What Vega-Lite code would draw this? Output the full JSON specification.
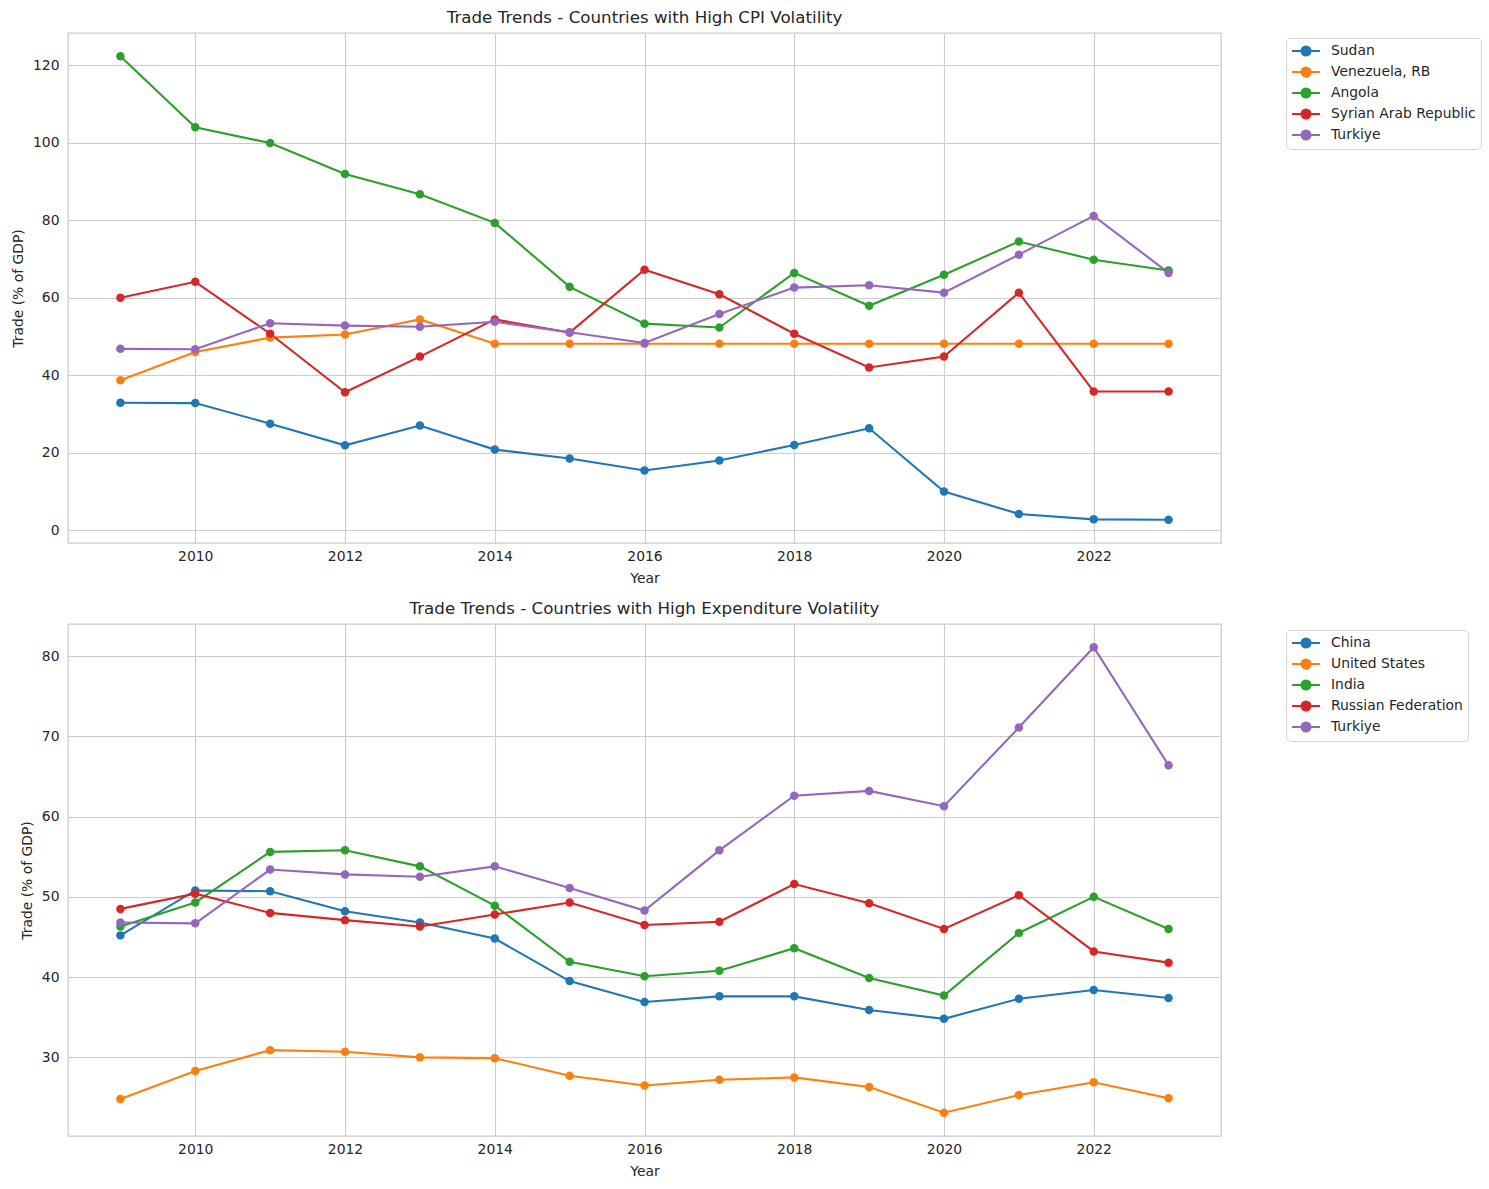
{
  "$schema": "https://vega.github.io/schema/vega-lite/v6.json",
  "padding": {"left": 10, "top": 9, "right": 5, "bottom": 5},
  "background": "white",
  "spacing": 13,
  "config": {
    "font": "DejaVu Sans",
    "view": {"stroke": "#cccccc", "strokeWidth": 1.3},
    "axis": {
      "domain": false,
      "ticks": false,
      "tickSize": 0,
      "grid": true,
      "gridColor": "#cccccc",
      "gridWidth": 1.1,
      "labelFont": "DejaVu Sans",
      "labelFontSize": 13.9,
      "labelColor": "#262626",
      "titleFont": "DejaVu Sans",
      "titleFontSize": 13.9,
      "titleFontWeight": "normal",
      "titleColor": "#262626"
    },
    "axisX": {"labelPadding": 6, "titlePadding": 9},
    "axisY": {"labelPadding": 9, "titlePadding": 7},
    "title": {"font": "DejaVu Sans", "fontSize": 16.7, "fontWeight": "normal", "color": "#262626", "offset": 6, "anchor": "middle"},
    "legend": {
      "labelFont": "DejaVu Sans",
      "labelFontSize": 13.9,
      "labelColor": "#262626",
      "strokeColor": "#d6d6d6",
      "fillColor": "white",
      "cornerRadius": 4,
      "padding": 5,
      "rowPadding": 3,
      "symbolSize": 196,
      "symbolStrokeWidth": 2,
      "symbolType": "M-1,0L3,0M1.65,0A0.65,0.65,0,1,1,0.35,0A0.65,0.65,0,1,1,1.65,0Z",
      "labelOffset": 24
    }
  },
  "resolve": {"scale": {"color": "independent"}, "legend": {"color": "independent"}},
  "vconcat": [
    {
      "name": "top",
      "title": "Trade Trends - Countries with High CPI Volatility",
      "width": 1153,
      "height": 510,
      "data": {"values": [
        {"country": "Sudan", "year": 2009, "trade": 32.9},
        {"country": "Sudan", "year": 2010, "trade": 32.8},
        {"country": "Sudan", "year": 2011, "trade": 27.5},
        {"country": "Sudan", "year": 2012, "trade": 21.9},
        {"country": "Sudan", "year": 2013, "trade": 27.0},
        {"country": "Sudan", "year": 2014, "trade": 20.8},
        {"country": "Sudan", "year": 2015, "trade": 18.5},
        {"country": "Sudan", "year": 2016, "trade": 15.4},
        {"country": "Sudan", "year": 2017, "trade": 18.0},
        {"country": "Sudan", "year": 2018, "trade": 22.0},
        {"country": "Sudan", "year": 2019, "trade": 26.3},
        {"country": "Sudan", "year": 2020, "trade": 10.0},
        {"country": "Sudan", "year": 2021, "trade": 4.2},
        {"country": "Sudan", "year": 2022, "trade": 2.8},
        {"country": "Sudan", "year": 2023, "trade": 2.7},
        {"country": "Venezuela, RB", "year": 2009, "trade": 38.7},
        {"country": "Venezuela, RB", "year": 2010, "trade": 46.0},
        {"country": "Venezuela, RB", "year": 2011, "trade": 49.7},
        {"country": "Venezuela, RB", "year": 2012, "trade": 50.5},
        {"country": "Venezuela, RB", "year": 2013, "trade": 54.4},
        {"country": "Venezuela, RB", "year": 2014, "trade": 48.1},
        {"country": "Venezuela, RB", "year": 2015, "trade": 48.1},
        {"country": "Venezuela, RB", "year": 2016, "trade": 48.1},
        {"country": "Venezuela, RB", "year": 2017, "trade": 48.1},
        {"country": "Venezuela, RB", "year": 2018, "trade": 48.1},
        {"country": "Venezuela, RB", "year": 2019, "trade": 48.1},
        {"country": "Venezuela, RB", "year": 2020, "trade": 48.1},
        {"country": "Venezuela, RB", "year": 2021, "trade": 48.1},
        {"country": "Venezuela, RB", "year": 2022, "trade": 48.1},
        {"country": "Venezuela, RB", "year": 2023, "trade": 48.1},
        {"country": "Angola", "year": 2009, "trade": 122.3},
        {"country": "Angola", "year": 2010, "trade": 104.0},
        {"country": "Angola", "year": 2011, "trade": 99.9},
        {"country": "Angola", "year": 2012, "trade": 91.9},
        {"country": "Angola", "year": 2013, "trade": 86.7},
        {"country": "Angola", "year": 2014, "trade": 79.3},
        {"country": "Angola", "year": 2015, "trade": 62.8},
        {"country": "Angola", "year": 2016, "trade": 53.3},
        {"country": "Angola", "year": 2017, "trade": 52.3},
        {"country": "Angola", "year": 2018, "trade": 66.4},
        {"country": "Angola", "year": 2019, "trade": 57.9},
        {"country": "Angola", "year": 2020, "trade": 65.9},
        {"country": "Angola", "year": 2021, "trade": 74.5},
        {"country": "Angola", "year": 2022, "trade": 69.8},
        {"country": "Angola", "year": 2023, "trade": 67.0},
        {"country": "Syrian Arab Republic", "year": 2009, "trade": 60.0},
        {"country": "Syrian Arab Republic", "year": 2010, "trade": 64.1},
        {"country": "Syrian Arab Republic", "year": 2011, "trade": 50.7},
        {"country": "Syrian Arab Republic", "year": 2012, "trade": 35.6},
        {"country": "Syrian Arab Republic", "year": 2013, "trade": 44.8},
        {"country": "Syrian Arab Republic", "year": 2014, "trade": 54.4},
        {"country": "Syrian Arab Republic", "year": 2015, "trade": 51.0},
        {"country": "Syrian Arab Republic", "year": 2016, "trade": 67.2},
        {"country": "Syrian Arab Republic", "year": 2017, "trade": 60.9},
        {"country": "Syrian Arab Republic", "year": 2018, "trade": 50.7},
        {"country": "Syrian Arab Republic", "year": 2019, "trade": 42.0},
        {"country": "Syrian Arab Republic", "year": 2020, "trade": 44.8},
        {"country": "Syrian Arab Republic", "year": 2021, "trade": 61.3},
        {"country": "Syrian Arab Republic", "year": 2022, "trade": 35.8},
        {"country": "Syrian Arab Republic", "year": 2023, "trade": 35.8},
        {"country": "Turkiye", "year": 2009, "trade": 46.8},
        {"country": "Turkiye", "year": 2010, "trade": 46.7},
        {"country": "Turkiye", "year": 2011, "trade": 53.4},
        {"country": "Turkiye", "year": 2012, "trade": 52.8},
        {"country": "Turkiye", "year": 2013, "trade": 52.5},
        {"country": "Turkiye", "year": 2014, "trade": 53.8},
        {"country": "Turkiye", "year": 2015, "trade": 51.1},
        {"country": "Turkiye", "year": 2016, "trade": 48.3},
        {"country": "Turkiye", "year": 2017, "trade": 55.8},
        {"country": "Turkiye", "year": 2018, "trade": 62.6},
        {"country": "Turkiye", "year": 2019, "trade": 63.2},
        {"country": "Turkiye", "year": 2020, "trade": 61.3},
        {"country": "Turkiye", "year": 2021, "trade": 71.1},
        {"country": "Turkiye", "year": 2022, "trade": 81.1},
        {"country": "Turkiye", "year": 2023, "trade": 66.4}
      ]},
      "mark": {"type": "line", "strokeWidth": 2.1, "point": {"filled": true, "size": 72, "opacity": 1}},
      "encoding": {
        "x": {"field": "year", "type": "quantitative", "title": "Year",
              "scale": {"domain": [2008.3, 2023.7], "nice": false, "zero": false},
              "axis": {"values": [2010, 2012, 2014, 2016, 2018, 2020, 2022], "format": "d"}},
        "y": {"field": "trade", "type": "quantitative", "title": "Trade (% of GDP)",
              "scale": {"domain": [-3.3, 128.3], "nice": false, "zero": false},
              "axis": {"values": [0, 20, 40, 60, 80, 100, 120]}},
        "color": {"field": "country", "type": "nominal",
                  "scale": {"domain": ["Sudan", "Venezuela, RB", "Angola", "Syrian Arab Republic", "Turkiye"],
                            "range": ["#1f77b4", "#ff7f0e", "#2ca02c", "#d62728", "#9467bd"]},
                  "legend": {"title": null, "orient": "none", "legendX": 1218, "legendY": 5,
                             "encode": {"symbols": {"update": {"fill": {"scale": "top_color", "field": "value"}, "stroke": {"scale": "top_color", "field": "value"}, "opacity": {"value": 1}}}}}}
      }
    },
    {
      "name": "bottom",
      "title": "Trade Trends - Countries with High Expenditure Volatility",
      "width": 1153,
      "height": 512,
      "data": {"values": [
        {"country": "China", "year": 2009, "trade": 45.2},
        {"country": "China", "year": 2010, "trade": 50.8},
        {"country": "China", "year": 2011, "trade": 50.7},
        {"country": "China", "year": 2012, "trade": 48.2},
        {"country": "China", "year": 2013, "trade": 46.8},
        {"country": "China", "year": 2014, "trade": 44.8},
        {"country": "China", "year": 2015, "trade": 39.5},
        {"country": "China", "year": 2016, "trade": 36.9},
        {"country": "China", "year": 2017, "trade": 37.6},
        {"country": "China", "year": 2018, "trade": 37.6},
        {"country": "China", "year": 2019, "trade": 35.9},
        {"country": "China", "year": 2020, "trade": 34.8},
        {"country": "China", "year": 2021, "trade": 37.3},
        {"country": "China", "year": 2022, "trade": 38.4},
        {"country": "China", "year": 2023, "trade": 37.4},
        {"country": "United States", "year": 2009, "trade": 24.8},
        {"country": "United States", "year": 2010, "trade": 28.3},
        {"country": "United States", "year": 2011, "trade": 30.9},
        {"country": "United States", "year": 2012, "trade": 30.7},
        {"country": "United States", "year": 2013, "trade": 30.0},
        {"country": "United States", "year": 2014, "trade": 29.9},
        {"country": "United States", "year": 2015, "trade": 27.7},
        {"country": "United States", "year": 2016, "trade": 26.5},
        {"country": "United States", "year": 2017, "trade": 27.2},
        {"country": "United States", "year": 2018, "trade": 27.5},
        {"country": "United States", "year": 2019, "trade": 26.3},
        {"country": "United States", "year": 2020, "trade": 23.1},
        {"country": "United States", "year": 2021, "trade": 25.3},
        {"country": "United States", "year": 2022, "trade": 26.9},
        {"country": "United States", "year": 2023, "trade": 24.9},
        {"country": "India", "year": 2009, "trade": 46.3},
        {"country": "India", "year": 2010, "trade": 49.3},
        {"country": "India", "year": 2011, "trade": 55.6},
        {"country": "India", "year": 2012, "trade": 55.8},
        {"country": "India", "year": 2013, "trade": 53.8},
        {"country": "India", "year": 2014, "trade": 48.9},
        {"country": "India", "year": 2015, "trade": 41.9},
        {"country": "India", "year": 2016, "trade": 40.1},
        {"country": "India", "year": 2017, "trade": 40.8},
        {"country": "India", "year": 2018, "trade": 43.6},
        {"country": "India", "year": 2019, "trade": 39.9},
        {"country": "India", "year": 2020, "trade": 37.7},
        {"country": "India", "year": 2021, "trade": 45.5},
        {"country": "India", "year": 2022, "trade": 50.0},
        {"country": "India", "year": 2023, "trade": 46.0},
        {"country": "Russian Federation", "year": 2009, "trade": 48.5},
        {"country": "Russian Federation", "year": 2010, "trade": 50.4},
        {"country": "Russian Federation", "year": 2011, "trade": 48.0},
        {"country": "Russian Federation", "year": 2012, "trade": 47.1},
        {"country": "Russian Federation", "year": 2013, "trade": 46.3},
        {"country": "Russian Federation", "year": 2014, "trade": 47.8},
        {"country": "Russian Federation", "year": 2015, "trade": 49.3},
        {"country": "Russian Federation", "year": 2016, "trade": 46.5},
        {"country": "Russian Federation", "year": 2017, "trade": 46.9},
        {"country": "Russian Federation", "year": 2018, "trade": 51.6},
        {"country": "Russian Federation", "year": 2019, "trade": 49.2},
        {"country": "Russian Federation", "year": 2020, "trade": 46.0},
        {"country": "Russian Federation", "year": 2021, "trade": 50.2},
        {"country": "Russian Federation", "year": 2022, "trade": 43.2},
        {"country": "Russian Federation", "year": 2023, "trade": 41.8},
        {"country": "Turkiye", "year": 2009, "trade": 46.8},
        {"country": "Turkiye", "year": 2010, "trade": 46.7},
        {"country": "Turkiye", "year": 2011, "trade": 53.4},
        {"country": "Turkiye", "year": 2012, "trade": 52.8},
        {"country": "Turkiye", "year": 2013, "trade": 52.5},
        {"country": "Turkiye", "year": 2014, "trade": 53.8},
        {"country": "Turkiye", "year": 2015, "trade": 51.1},
        {"country": "Turkiye", "year": 2016, "trade": 48.3},
        {"country": "Turkiye", "year": 2017, "trade": 55.8},
        {"country": "Turkiye", "year": 2018, "trade": 62.6},
        {"country": "Turkiye", "year": 2019, "trade": 63.2},
        {"country": "Turkiye", "year": 2020, "trade": 61.3},
        {"country": "Turkiye", "year": 2021, "trade": 71.1},
        {"country": "Turkiye", "year": 2022, "trade": 81.1},
        {"country": "Turkiye", "year": 2023, "trade": 66.4}
      ]},
      "mark": {"type": "line", "strokeWidth": 2.1, "point": {"filled": true, "size": 72, "opacity": 1}},
      "encoding": {
        "x": {"field": "year", "type": "quantitative", "title": "Year",
              "scale": {"domain": [2008.3, 2023.7], "nice": false, "zero": false},
              "axis": {"values": [2010, 2012, 2014, 2016, 2018, 2020, 2022], "format": "d"}},
        "y": {"field": "trade", "type": "quantitative", "title": "Trade (% of GDP)",
              "scale": {"domain": [20.2, 84.0], "nice": false, "zero": false},
              "axis": {"values": [30, 40, 50, 60, 70, 80]}},
        "color": {"field": "country", "type": "nominal",
                  "scale": {"domain": ["China", "United States", "India", "Russian Federation", "Turkiye"],
                            "range": ["#1f77b4", "#ff7f0e", "#2ca02c", "#d62728", "#9467bd"]},
                  "legend": {"title": null, "orient": "none", "legendX": 1218, "legendY": 6,
                             "encode": {"symbols": {"update": {"fill": {"scale": "bottom_color", "field": "value"}, "stroke": {"scale": "bottom_color", "field": "value"}, "opacity": {"value": 1}}}}}}
      }
    }
  ]
}
